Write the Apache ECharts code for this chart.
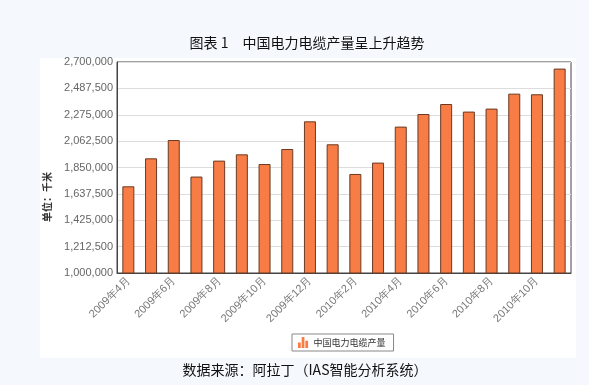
<!DOCTYPE html>
<html><head><meta charset="utf-8">
<script src="https://cdn.jsdelivr.net/npm/echarts@6/dist/echarts.min.js"></script>
<style>html,body{margin:0;padding:0;background:#f5f9fd;}#c{width:589px;height:385px;}</style>
</head><body><div id="c"></div>
<script>
var categories = ['2009年4月','2009年5月','2009年6月','2009年7月','2009年8月','2009年9月','2009年10月','2009年11月','2009年12月','2010年1月','2010年2月','2010年3月','2010年4月','2010年5月','2010年6月','2010年7月','2010年8月','2010年9月','2010年10月','2010年11月'];
var production = [1698500,1924000,2071500,1777000,1905500,1956000,1878000,1999000,2222000,2037000,1798000,1889500,2179500,2281000,2361500,2300500,2324500,2445000,2440000,2647000];
var yTicks = [1000000,1212500,1425000,1637500,1850000,2062500,2275000,2487500,2700000];
var seriesName = '中国电力电缆产量';
var titleText = '图表 1　中国电力电缆产量呈上升趋势';
var sourceText = '数据来源：阿拉丁（IAS智能分析系统）';
var yName = '单位：千米';

var chart = echarts.init(document.getElementById('c'), null, {renderer:'canvas'});
chart.setOption({
  backgroundColor: '#f5f9fd',
  animation: false,
  graphic: [
    {type:'rect', z:-10, shape:{x:40,y:58,width:536,height:300}, style:{fill:'#ffffff'}},
    {type:'text', x:307, y:43, style:{text:titleText, font:'14px "Noto Sans CJK SC"', fill:'#111', align:'center', verticalAlign:'middle'}},
    {type:'text', x:305, y:370, style:{text:sourceText, font:'14px "Noto Sans CJK SC"', fill:'#111', align:'center', verticalAlign:'middle'}},
    {type:'text', x:47, y:197, rotation:Math.PI/2, style:{text:yName, font:'bold 10px "Noto Sans CJK SC"', fill:'#333', align:'center', verticalAlign:'middle'}}
  ],
  grid: {left:117, right:18, top:62, bottom:112, show:true, backgroundColor:'#ffffff', borderColor:'#444', borderWidth:1},
  legend: {
    data:[seriesName], left:292, top:334, orient:'horizontal',
    itemWidth:11, itemHeight:11, itemGap:6,
    icon:'path://M0,12 L0,6 L3,6 L3,12 Z M4,12 L4,0 L7,0 L7,12 Z M8,12 L8,4 L11,4 L11,12 Z',
    itemStyle:{color:'#f77c45', borderWidth:0},
    textStyle:{fontSize:9, color:'#333', fontFamily:'"Noto Sans CJK SC"'},
    borderColor:'#888', borderWidth:1, padding:[3,8,3,6], backgroundColor:'#fff'
  },
  xAxis: {
    type:'category', data:categories,
    axisLine:{show:true, lineStyle:{color:'#444'}},
    axisTick:{show:false},
    axisLabel:{interval:1, rotate:45, color:'#777', fontSize:11, fontFamily:'Arial', margin:6}
  },
  yAxis: {
    type:'value', min:yTicks[0], max:yTicks[yTicks.length-1], interval:212500,
    axisLine:{show:true, lineStyle:{color:'#444'}},
    axisTick:{show:false},
    splitLine:{lineStyle:{color:'#ddd'}},
    axisLabel:{color:'#666', fontSize:11, fontFamily:'Arial', margin:4,
      formatter:function(v){return v.toString().replace(/\B(?=(\d{3})+(?!\d))/g, ',');}}
  },
  series: [{
    name:seriesName, type:'bar', data:production, barWidth:12,
    itemStyle:{color:'#f77c45', borderColor:'#6a3a22', borderWidth:1}
  }]
});
</script></body></html>
